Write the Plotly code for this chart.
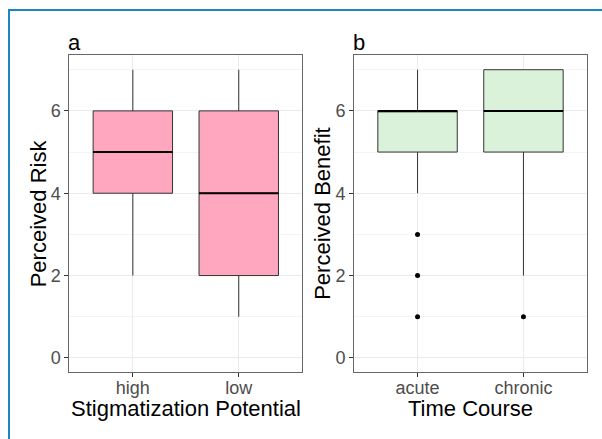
import plotly.graph_objects as go

# ---- data ----
risk_cats = ["high", "low"]
risk_q1 = [4, 2]
risk_median = [5, 4]
risk_q3 = [6, 6]
risk_lower = [2, 1]
risk_upper = [7, 7]

benefit_cats = ["acute", "chronic"]
benefit_q1 = [5, 5]
benefit_median = [6, 6]
benefit_q3 = [6, 7]
benefit_lower = [4, 2]
benefit_upper = [7, 7]
benefit_out_x = ["acute", "acute", "acute", "chronic"]
benefit_out_y = [3, 2, 1, 1]

y_ticks = [0, 2, 4, 6]

W, H = 602, 439
FONT = "Liberation Sans, Arial, sans-serif"
PINK = "#FFA7BF"
GREEN = "#D9F2D9"
BOXLINE = "#333333"

fig = go.Figure()

def add_panel(cats, q1, med, q3, lo, hi, fill, xa, ya):
    fig.add_trace(go.Box(
        x=cats, q1=q1, median=med, q3=q3, lowerfence=lo, upperfence=hi,
        fillcolor=fill, line=dict(color=BOXLINE, width=1), width=0.75,
        whiskerwidth=0, boxpoints=False, xaxis=xa, yaxis=ya,
        showlegend=False, hoverinfo="skip"))
    # thicker median line, as a degenerate box at the median
    fig.add_trace(go.Box(
        x=cats, q1=med, median=med, q3=med, lowerfence=med, upperfence=med,
        fillcolor="rgba(0,0,0,0)", line=dict(color="#000000", width=2), width=0.75,
        whiskerwidth=0, boxpoints=False, xaxis=xa, yaxis=ya,
        showlegend=False, hoverinfo="skip"))

add_panel(risk_cats, risk_q1, risk_median, risk_q3, risk_lower, risk_upper, PINK, "x", "y")
add_panel(benefit_cats, benefit_q1, benefit_median, benefit_q3, benefit_lower, benefit_upper, GREEN, "x2", "y2")
fig.add_trace(go.Scatter(
    x=benefit_out_x, y=benefit_out_y, mode="markers",
    marker=dict(color="black", size=5), xaxis="x2", yaxis="y2",
    showlegend=False, hoverinfo="skip"))

def px_x(p):
    return p / W

def px_y(p):
    return 1 - p / H

panel_top, panel_bot = 55.3, 372.3
dom_y = [px_y(panel_bot), px_y(panel_top)]
dom_a = [px_x(69.3), px_x(302.3)]
dom_b = [px_x(354.0), px_x(587.0)]

xcommon = dict(
    type="category", range=[-0.6, 1.6], showgrid=True, gridcolor="#EBEBEB", gridwidth=1,
    showline=True, mirror=True, linecolor="#666666", linewidth=1,
    ticks="outside", ticklen=4, tickcolor="#333333", tickwidth=1, automargin=False,
    ticklabelstandoff=-5,
    tickfont=dict(family=FONT, size=18, color="#4D4D4D"), zeroline=False, fixedrange=True)
ycommon = dict(
    range=[-0.35, 7.35], tickvals=y_ticks, showgrid=True, gridcolor="#EBEBEB", gridwidth=1,
    minor=dict(dtick=1, tick0=0, showgrid=True, gridcolor="#F4F4F4", gridwidth=1, ticks=""),
    showline=True, mirror=True, linecolor="#666666", linewidth=1,
    ticks="outside", ticklen=4, tickcolor="#333333", tickwidth=1, automargin=False,
    tickfont=dict(family=FONT, size=18, color="#4D4D4D"), zeroline=False, fixedrange=True)

fig.update_layout(
    width=W, height=H, margin=dict(l=0, r=0, t=0, b=0, autoexpand=False),
    paper_bgcolor="white", plot_bgcolor="white", boxmode="overlay",
    font=dict(family=FONT, color="black"),
    xaxis=dict(domain=dom_a, anchor="y", **xcommon),
    yaxis=dict(domain=dom_y, anchor="x", **ycommon),
    xaxis2=dict(domain=dom_b, anchor="y2", **xcommon),
    yaxis2=dict(domain=dom_y, anchor="x2", **ycommon),
)

def ann(text, x, y, size, xanchor="center", yanchor="middle", angle=0):
    fig.add_annotation(text=text, x=px_x(x), y=px_y(y), xref="paper", yref="paper",
                       xanchor=xanchor, yanchor=yanchor, showarrow=False, textangle=angle,
                       font=dict(family=FONT, size=size, color="black"))

ann("a", 66, 42, 22, xanchor="left")
ann("b", 351, 42, 22, xanchor="left")
ann("Stigmatization Potential", 185.8, 408, 22)
ann("Time Course", 470.5, 408, 22)
ann("Perceived Risk", 38.5, 213.8, 22, angle=-90)
ann("Perceived Benefit", 323, 213.8, 22, angle=-90)

# blue frame
fig.add_shape(type="rect", xref="paper", yref="paper",
              x0=px_x(9), x1=px_x(W + 10), y0=px_y(H + 10), y1=px_y(10),
              line=dict(color="#1A86C2", width=2), fillcolor="rgba(0,0,0,0)", layer="above")

fig.write_html("out.html", config={"displayModeBar": False, "staticPlot": True},
               post_script="document.body.style.margin='0px';document.body.style.overflow='hidden';")
